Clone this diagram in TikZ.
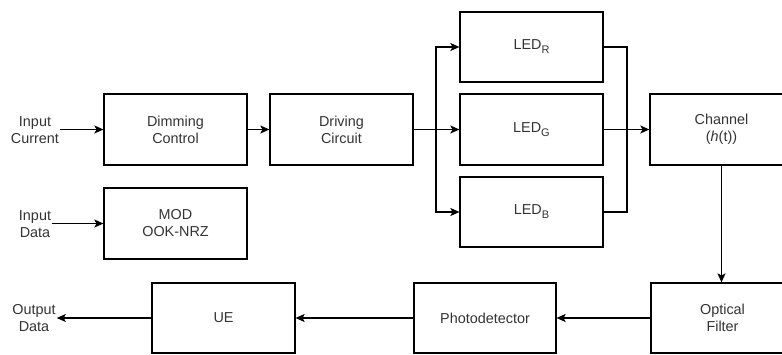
\documentclass[tikz,border=0pt]{standalone}
\usepackage{fontspec}
\setmainfont{Liberation Sans}
\usetikzlibrary{arrows.meta}
\definecolor{txt}{HTML}{333333}
\newcommand{\ledsub}[1]{\raisebox{-4pt}{\fontsize{11}{12}\selectfont #1}}
\begin{document}
\begin{tikzpicture}[x=1pt,y=-1pt,
  box/.style={draw=black,line width=1.2pt,minimum width=143pt,minimum height=71pt,inner sep=0pt,align=center,text=txt,font=\fontsize{14.4}{17}\selectfont},
  lbl/.style={inner sep=1pt,align=center,text=txt,font=\fontsize{14.4}{17}\selectfont},
  arr/.style={line width=1.2pt,-{Stealth[length=9pt,width=8pt,inset=2pt]}},
  ln/.style={line width=1.2pt}]
\useasboundingbox (0,0) rectangle (782,354);
\clip (0,0) rectangle (782,354);
% nodes
\node[box] (dim) at (175.5,129.5) {Dimming\\Control};
\node[box] (drv) at (341.5,129.5) {Driving\\Circuit};
\node[box] (mod) at (175.5,223.5) {MOD\\OOK-NRZ};
\node[box,minimum height=70pt] (ledR) at (531.5,47) {LED\ledsub{R}};
\node[box] (ledG) at (531.5,129.5) {LED\ledsub{G}};
\node[box,minimum height=70pt] (ledB) at (531.5,212) {LED\ledsub{B}};
\node[box] (chan) at (721.5,129.5) {Channel\\(\textit{h}(t))};
\node[box,minimum height=70pt] (filt) at (722.5,318) {Optical\\Filter};
\node[box,minimum width=142pt,minimum height=70pt] (pd) at (485,318) {Photodetector};
\node[box,minimum height=70pt] (ue) at (223.5,318) {UE};
\node[lbl] (ic) at (35,130) {Input\\Current};
\node[lbl] (id) at (35,224) {Input\\Data};
\node[lbl] (od) at (34,318) {Output\\Data};
% connectors
\draw[arr] (ic.east |- dim.west) -- (dim.west);
\draw[arr] (id.east |- mod.west) -- (mod.west);
\draw[arr] (dim.east) -- (drv.west);
\coordinate (sp) at (436,129.5);
\coordinate (mg) at (627,129.5);
\draw[ln] (drv.east) -- (sp);
\draw[arr] (sp) -- (ledG.west);
\draw[arr] (sp) |- (ledR.west);
\draw[arr] (sp) |- (ledB.west);
\draw[ln] (ledR.east) -| (mg);
\draw[ln] (ledB.east) -| (mg);
\draw[arr] (ledG.east) -- (chan.west);
\draw[arr] (chan.south) -- (chan.south |- filt.north);
\draw[arr] (filt.west) -- (pd.east);
\draw[arr] (pd.west) -- (ue.east);
\draw[arr] (ue.west) -- (od.east |- ue.west);
\end{tikzpicture}
\end{document}
